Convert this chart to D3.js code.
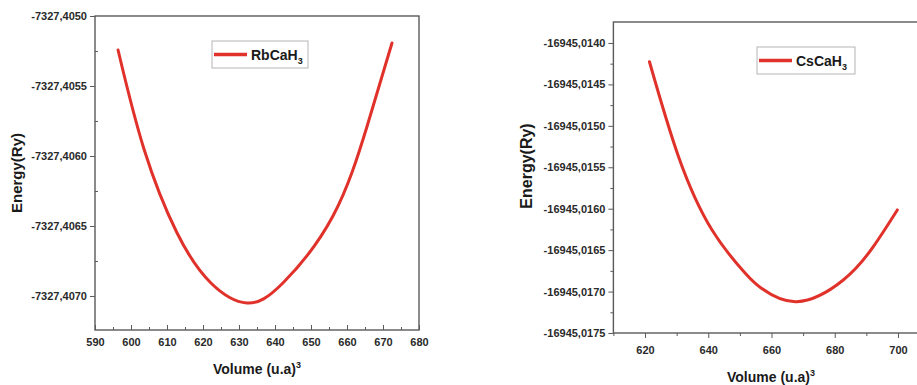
<!DOCTYPE html>
<html>
<head>
<meta charset="utf-8">
<script src="https://cdn.jsdelivr.net/npm/d3@7"></script>
<style>
  body { margin: 0; background: #fff; }
  svg { display: block; font-family: "Liberation Sans", Arial, sans-serif; font-weight: bold; }
  .tick text { fill: #2a2a2a; }
</style>
</head>
<body>
<svg id="chart"></svg>
<script>
// RbCaH3 (left panel)
const rbVolume = [596.4, 603.6, 612.8, 622.2, 632.2, 642.2, 656.1, 665.6, 672.5];
const rbEnergy = [-7327.405243, -7327.405950, -7327.406550, -7327.406907, -7327.407050,
  -7327.406907, -7327.406429, -7327.405786, -7327.405193];
const rbYTicks = ['-7327,4050', '-7327,4055', '-7327,4060', '-7327,4065', '-7327,4070'];
const rbXTicks = [590, 600, 610, 620, 630, 640, 650, 660, 670, 680];

// CsCaH3 (right panel)
const csVolume = [621.4, 630.6, 641.2, 651.7, 656.7, 668, 682.7, 692.2, 699.8];
const csEnergy = [-16945.014226, -16945.015372, -16945.016257, -16945.016779, -16945.016957,
  -16945.017122, -16945.016860, -16945.016458, -16945.016015];
const csYTicks = ['-16945,0140', '-16945,0145', '-16945,0150', '-16945,0155', '-16945,0160',
  '-16945,0165', '-16945,0170', '-16945,0175'];
const csXTicks = [620, 640, 660, 680, 700];

const size = {w: 917, h: 385};
const red = '#e0312a';
const frameColor = '#5a5a5a';

const svg = d3.select('svg#chart')
  .attr('width', size.w)
  .attr('height', size.h);

const toNum = s => +s.replace(',', '.');
const fmt = d => d.toFixed(4).replace('.', ',');

function drawPanel(cfg) {
  const g = svg.append('g');
  const x = d3.scaleLinear().domain(cfg.xDomain).range(cfg.xRange);
  const y = d3.scaleLinear().domain(cfg.yDomain).range(cfg.yRange);

  const yMajor = cfg.yTicks.map(toNum);
  const yMinor = yMajor.slice(0, -1).map((v, i) => (v + yMajor[i + 1]) / 2);
  const xMajor = cfg.xTicks;
  const xMinor = xMajor.slice(0, -1).map((v, i) => (v + xMajor[i + 1]) / 2);
  if (cfg.xMinorExtra) xMinor.push(xMajor[xMajor.length - 1] + cfg.xStep / 2, xMajor[0] - cfg.xStep / 2);

  const left = cfg.xRange[0], bottom = cfg.yRange[0];

  // y axis
  const yAx = g.append('g')
    .attr('transform', `translate(${left},0)`)
    .call(d3.axisLeft(y).tickValues(yMajor).tickFormat(fmt).tickSize(5).tickPadding(3));
  yAx.select('.domain').remove();
  yAx.selectAll('line').attr('stroke', frameColor);
  yAx.selectAll('text').style('font-size', cfg.yFont + 'px');

  const yMin = g.append('g')
    .attr('transform', `translate(${left},0)`)
    .call(d3.axisLeft(y).tickValues(yMinor).tickFormat('').tickSize(cfg.yMinorIn ? -3 : 3));
  yMin.select('.domain').remove();
  yMin.selectAll('line').attr('stroke', frameColor);

  // x axis
  const xIn = cfg.xIn ? -1 : 1;
  const xAx = g.append('g')
    .attr('transform', `translate(0,${bottom})`)
    .call(d3.axisBottom(x).tickValues(xMajor).tickFormat(d3.format('d'))
      .tickSize(5 * xIn).tickPadding(cfg.xPad));
  xAx.select('.domain').remove();
  xAx.selectAll('line').attr('stroke', frameColor);
  xAx.selectAll('text').style('font-size', '11px');

  const xMin = g.append('g')
    .attr('transform', `translate(0,${bottom})`)
    .call(d3.axisBottom(x).tickValues(xMinor).tickFormat('').tickSize(3 * xIn));
  xMin.select('.domain').remove();
  xMin.selectAll('line').attr('stroke', frameColor);

  // frame
  g.append('rect')
    .attr('x', cfg.xRange[0])
    .attr('y', cfg.yRange[1])
    .attr('width', cfg.xRange[1] - cfg.xRange[0])
    .attr('height', cfg.yRange[0] - cfg.yRange[1])
    .attr('fill', 'none')
    .attr('stroke', frameColor)
    .attr('stroke-width', 1.4);

  // curve
  const line = d3.line()
    .x(d => x(d[0]))
    .y(d => y(d[1]))
    .curve(d3.curveNatural);
  g.append('path')
    .datum(d3.zip(cfg.volume, cfg.energy))
    .attr('d', line)
    .attr('fill', 'none')
    .attr('stroke', red)
    .attr('stroke-width', 3)
    .attr('stroke-linecap', 'round');

  // axis titles
  g.append('text')
    .attr('transform', `translate(${cfg.yTitlePos[0]},${cfg.yTitlePos[1]}) rotate(-90)`)
    .attr('text-anchor', 'middle')
    .attr('dominant-baseline', 'central')
    .style('font-size', cfg.yTitleFont + 'px')
    .attr('fill', '#1a1a1a')
    .text('Energy(Ry)');

  const xt = g.append('text')
    .attr('x', cfg.xTitlePos[0])
    .attr('y', cfg.xTitlePos[1])
    .attr('text-anchor', 'middle')
    .style('font-size', '14px')
    .attr('fill', '#1a1a1a');
  xt.append('tspan').text('Volume (u.a)');
  xt.append('tspan').attr('dy', -6).style('font-size', '9px').text('3');

  // legend
  const lg = g.append('g').attr('transform', `translate(${cfg.legend[0]},${cfg.legend[1]})`);
  lg.append('rect')
    .attr('width', cfg.legend[2])
    .attr('height', 27)
    .attr('fill', '#fff')
    .attr('stroke', '#b5b5b5')
    .attr('stroke-width', 1);
  lg.append('line')
    .attr('x1', 2).attr('x2', 35)
    .attr('y1', 13.5).attr('y2', 13.5)
    .attr('stroke', red)
    .attr('stroke-width', 3.5);
  const lt = lg.append('text')
    .attr('x', 39)
    .attr('y', 19)
    .style('font-size', '14px')
    .attr('fill', '#1a1a1a');
  lt.append('tspan').text(cfg.name);
  lt.append('tspan').attr('dy', 4).style('font-size', '9px').text('3');
}

drawPanel({
  name: 'RbCaH',
  volume: rbVolume,
  energy: rbEnergy,
  xDomain: [590, 680],
  xRange: [95, 419],
  yDomain: [-7327.407243, -7327.4050],
  yRange: [330, 16],
  yTicks: rbYTicks,
  xTicks: rbXTicks,
  xStep: 10,
  yFont: 11,
  yMinorIn: true,
  xIn: true,
  xPad: 8,
  yTitlePos: [16, 173],
  yTitleFont: 15,
  xTitlePos: [257, 374],
  legend: [212, 41, 96]
});

drawPanel({
  name: 'CsCaH',
  volume: csVolume,
  energy: csEnergy,
  xDomain: [610, 710],
  xRange: [613.4, 929.6],
  yDomain: [-16945.0175, -16945.013747],
  yRange: [333, 22],
  yTicks: csYTicks,
  xTicks: csXTicks,
  xStep: 20,
  xMinorExtra: true,
  yFont: 11,
  yMinorIn: false,
  xIn: false,
  xPad: 8,
  yTitlePos: [526, 166],
  yTitleFont: 16,
  xTitlePos: [771, 382],
  legend: [757, 47, 98]
});
</script>
</body>
</html>
